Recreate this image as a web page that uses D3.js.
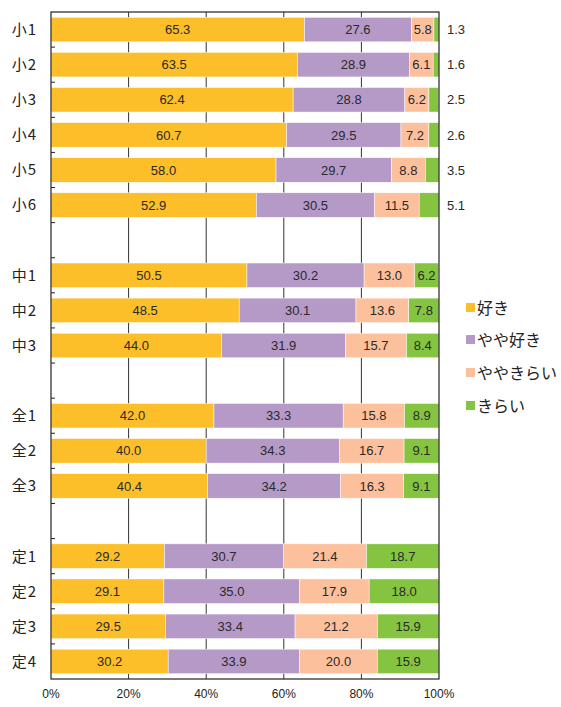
<!DOCTYPE html>
<html><head><meta charset="utf-8">
<script src="https://cdn.jsdelivr.net/npm/d3@7"></script>
<style>body{margin:0;background:#fff;font-family:"Noto Sans CJK JP","Noto Sans",sans-serif;}</style>
</head><body><svg id="c" width="561" height="707"></svg>
<script>
const categories = ["小1","小2","小3","小4","小5","小6","","中1","中2","中3","","全1","全2","全3","","定1","定2","定3","定4"];
const seriesNames = ["好き","やや好き","ややきらい","きらい"];
const suki =        [65.3,63.5,62.4,60.7,58.0,52.9,null,50.5,48.5,44.0,null,42.0,40.0,40.4,null,29.2,29.1,29.5,30.2];
const yayaSuki =    [27.6,28.9,28.8,29.5,29.7,30.5,null,30.2,30.1,31.9,null,33.3,34.3,34.2,null,30.7,35.0,33.4,33.9];
const yayaKirai =   [5.8,6.1,6.2,7.2,8.8,11.5,null,13.0,13.6,15.7,null,15.8,16.7,16.3,null,21.4,17.9,21.2,20.0];
const kirai =       [1.3,1.6,2.5,2.6,3.5,5.1,null,6.2,7.8,8.4,null,8.9,9.1,9.1,null,18.7,18.0,15.9,15.9];
const tickLabels = ["0%","20%","40%","60%","80%","100%"];
const colors = ["#FCBF2A","#B599C7","#FDC09C","#84C441"];
const series = [suki,yayaSuki,yayaKirai,kirai];

const svg = d3.select("#c");
const L=51, R=439, T=12, B=679;
const x = d3.scaleLinear().domain([0,100]).range([L,R]);
const y = d3.scaleBand().domain(d3.range(categories.length)).range([T,B]).paddingInner(0.3).paddingOuter(0.15);

svg.append("g").selectAll("line").data([20,40,60,80]).join("line")
  .attr("x1",d=>x(d)).attr("x2",d=>x(d)).attr("y1",T).attr("y2",B)
  .attr("stroke","#333").attr("stroke-width",1);

categories.forEach((c,i)=>{
  if(suki[i]==null) return;
  let cum=0;
  series.forEach((s,k)=>{
    const v=s[i];
    const x0=x(cum), x1=x(Math.min(cum+v,100));
    svg.append("rect").attr("x",x0).attr("y",y(i)).attr("width",Math.max(0,x1-x0)).attr("height",y.bandwidth())
      .attr("fill",colors[k]).attr("stroke","#fff").attr("stroke-width",0.5);
    const outside = (k===3 && i<6);
    svg.append("text")
      .attr("x", outside ? 447 : (x0+x1)/2)
      .attr("y", y(i)+y.bandwidth()/2)
      .attr("dy","0.36em")
      .attr("text-anchor", outside ? "start" : "middle")
      .attr("font-size",13).attr("fill","#2a2a2a")
      .attr("font-family","Liberation Sans, Arial, sans-serif")
      .text(v.toFixed(1));
    cum+=v;
  });
});

svg.append("rect").attr("x",L).attr("y",T).attr("width",R-L).attr("height",B-T)
  .attr("fill","none").attr("stroke","#222").attr("stroke-width",1.2);

const step = y.step();
svg.append("g").selectAll("line").data(d3.range(1,categories.length)).join("line")
  .attr("x1",L).attr("x2",L+4)
  .attr("y1",d=>y(d)-step*0.15).attr("y2",d=>y(d)-step*0.15)
  .attr("stroke","#222");

svg.append("g").selectAll("text").data(categories.map((c,i)=>({c,i})).filter(d=>d.c)).join("text")
  .attr("x",37).attr("y",d=>y(d.i)+y.bandwidth()/2).attr("dy","0.36em")
  .attr("text-anchor","end").attr("font-size",15).attr("letter-spacing",1).attr("fill","#222")
  .text(d=>d.c);

svg.append("g").selectAll("text").data(tickLabels).join("text")
  .attr("x",(d,i)=>x(i*20)).attr("y",698).attr("text-anchor","middle")
  .attr("font-size",12).attr("fill","#222")
  .attr("font-family","Liberation Sans, Arial, sans-serif")
  .text(d=>d);

const ly=[308,340,373,406];
seriesNames.forEach((n,k)=>{
  svg.append("rect").attr("x",466).attr("y",ly[k]-5).attr("width",9).attr("height",9).attr("fill",colors[k]);
  svg.append("text").attr("x",477).attr("y",ly[k]).attr("dy","0.36em")
    .attr("font-size",16).attr("fill","#222").text(n);
});
</script></body></html>
